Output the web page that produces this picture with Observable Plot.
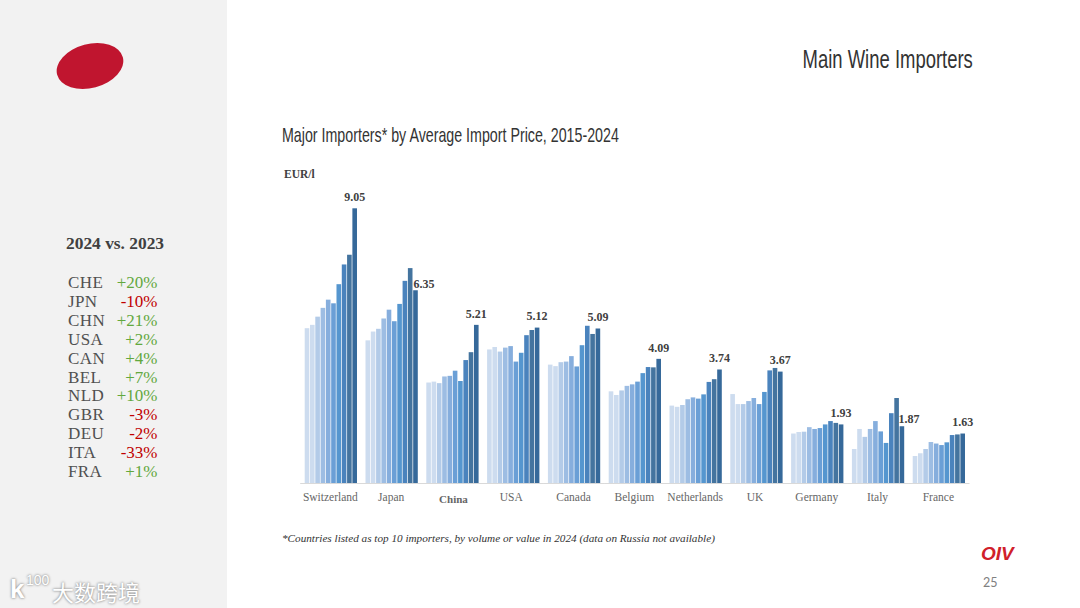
<!DOCTYPE html>
<html><head><meta charset="utf-8">
<script src="https://cdn.jsdelivr.net/npm/d3@7"></script>
<script src="https://cdn.jsdelivr.net/npm/@observablehq/plot@0.6"></script>
<style>
html,body{margin:0;padding:0;background:#fff;width:1080px;height:608px;overflow:hidden}
.a{position:absolute;white-space:nowrap;line-height:1}
#panel{position:absolute;left:0;top:0;width:227px;height:608px;background:#f2f2f2}
.serif{font-family:"Liberation Serif",serif}
.narrow{font-family:"Liberation Sans",sans-serif;color:#333}
.wm{color:#fff;text-shadow:0 0 3px #999,0 0 2px #999}
#chart{position:absolute;left:280px;top:160px}
</style></head><body>
<div id="panel"></div>
<svg class="a" style="left:50px;top:36px" width="80" height="60"><ellipse cx="40" cy="30" rx="34" ry="22" transform="rotate(-15 40 30)" fill="#c0152f"/></svg>
<div class="a narrow" style="right:107px;top:46px;font-size:26px;transform:scaleX(.71);transform-origin:right center">Main Wine Importers</div>
<div class="a narrow" style="left:282px;top:124px;font-size:21px;transform:scaleX(.678);transform-origin:left center">Major Importers* by Average Import Price, 2015-2024</div>
<div class="a serif" style="left:284px;top:169px;font-size:11.5px;font-weight:bold;color:#404040">EUR/l</div>
<div class="a serif" style="left:66px;top:235px;font-size:17.4px;font-weight:bold;color:#404040">2024 vs. 2023</div>
<div id="table"></div>
<div id="chart"></div>
<div class="a serif" style="left:282px;top:533px;font-size:11.2px;font-style:italic;color:#333">*Countries listed as top 10 importers, by volume or value in 2024 (data on Russia not available)</div>
<div class="a" style="left:981px;top:543px;font:italic bold 19px 'Liberation Sans',sans-serif;color:#d0202a">OIV</div>
<div class="a" style="left:983px;top:575px;font:12.5px Lato,sans-serif;color:#808080">25</div>
<div class="a wm" style="left:10px;top:574px;font:bold 26px 'Liberation Sans',sans-serif">k</div>
<div class="a wm" style="left:26px;top:572px;font:14px 'Liberation Sans',sans-serif">100</div>
<div class="a wm" style="left:52px;top:575px;font:22px 'Noto Sans CJK SC',sans-serif">大数跨境</div>
<script>
const years = [2015,2016,2017,2018,2019,2020,2021,2022,2023,2024];
const countries = ["Switzerland","Japan","China","USA","Canada","Belgium","Netherlands","UK","Germany","Italy","France"];
const switzerland = [5.10,5.21,5.48,5.77,6.04,5.92,6.55,7.20,7.52,9.05];
const japan = [4.70,4.99,5.08,5.42,5.71,5.33,5.90,6.66,7.08,6.35];
const china = [3.31,3.34,3.29,3.51,3.53,3.70,3.36,4.05,4.31,5.21];
const usa = [4.40,4.48,4.33,4.46,4.51,4.00,4.29,4.87,5.04,5.12];
const canada = [3.90,3.85,3.98,4.00,4.18,3.84,4.54,5.18,4.91,5.09];
const belgium = [3.02,2.90,3.05,3.20,3.25,3.34,3.62,3.82,3.81,4.09];
const netherlands = [2.55,2.51,2.57,2.76,2.82,2.78,2.92,3.33,3.42,3.74];
const uk = [2.93,2.60,2.60,2.70,2.80,2.60,3.00,3.71,3.79,3.67];
const germany = [1.63,1.68,1.69,1.84,1.78,1.81,1.93,2.04,1.98,1.93];
const italy = [1.12,1.78,1.52,1.78,2.04,1.70,1.32,2.30,2.80,1.87];
const france = [0.89,0.98,1.12,1.35,1.30,1.25,1.34,1.58,1.60,1.63];
const series = [switzerland,japan,china,usa,canada,belgium,netherlands,uk,germany,italy,france];
const yearColors = ["#cddcef","#cddcef","#b3cbe8","#9dbde3","#86aedd","#6a9fd6","#5596cf","#4a83bd","#44749f","#36699a"];
const codes = ["CHE","JPN","CHN","USA","CAN","BEL","NLD","GBR","DEU","ITA","FRA"];
const changes = ["+20%","-10%","+21%","+2%","+4%","+7%","+10%","-3%","-2%","-33%","+1%"];

const rows = countries.flatMap((c,i)=>years.map((y,j)=>({country:c,year:y,value:series[i][j]})));
const last = rows.filter(d=>d.year===2024);
const beside = new Set(["Japan","Italy"]);
const moved = new Set(["China","USA","UK"]);
const labelFont = {fontFamily:"Liberation Serif, serif"};
const valueStyle = {fx:"country",x:"year",y:"value",text:d=>d.value.toFixed(2),fontSize:12,fontWeight:"bold",fill:"#404040",...labelFont};
const nameStyle = {fx:d=>d,y:()=>0,text:d=>d,fontSize:11.5,fill:"#666666",...labelFont};

const plot = Plot.plot({
  width:700,height:350,marginLeft:24.7,marginRight:15,marginTop:48.3,marginBottom:27,
  style:{background:"transparent"},
  fx:{domain:countries,paddingInner:0.14,paddingOuter:0,round:false,axis:null,label:null},
  x:{domain:years,paddingInner:0.13,paddingOuter:0,round:false,axis:null,label:null},
  y:{domain:[0,9.05],axis:null,label:null},
  color:{domain:years,range:yearColors,type:"ordinal"},
  marks:[
    Plot.ruleY([0],{stroke:"#d9d9d9",insetLeft:-4.5,insetRight:-4.5}),
    Plot.barY(rows,{fx:"country",x:"year",y:"value",fill:"year"}),
    Plot.text(last.filter(d=>!beside.has(d.country)),{...valueStyle,dx:-0.5,dy:-11.5}),
    Plot.text(last.filter(d=>d.country==="Japan"),{...valueStyle,dx:8,dy:-7}),
    Plot.text(last.filter(d=>d.country==="Italy"),{...valueStyle,dx:6.5,dy:-7.5}),
    Plot.text(countries.filter(c=>!moved.has(c)),{...nameStyle,dx:-1,dy:14}),
    Plot.text(["USA"],{...nameStyle,dx:-2.5,dy:14}),
    Plot.text(["UK"],{...nameStyle,dx:-2,dy:14}),
    Plot.text(["China"],{...nameStyle,dx:0.5,dy:16,fontSize:11,fontWeight:"bold"})
  ]
});
document.getElementById("chart").append(plot);

const table = document.getElementById("table");
codes.forEach((c,i)=>{
  const top = 274 + i*18.9;
  const l = document.createElement("div");
  l.className="a serif"; l.textContent=c;
  l.style.cssText=`left:68px;top:${top}px;font-size:17px;color:#505050;letter-spacing:.4px`;
  const r = document.createElement("div");
  r.className="a serif"; r.textContent=changes[i];
  r.style.cssText=`right:${1080-157.5}px;top:${top}px;font-size:17px;color:${changes[i][0]==="+"?"#62a83e":"#c00000"}`;
  table.append(l,r);
});
</script>
</body></html>
